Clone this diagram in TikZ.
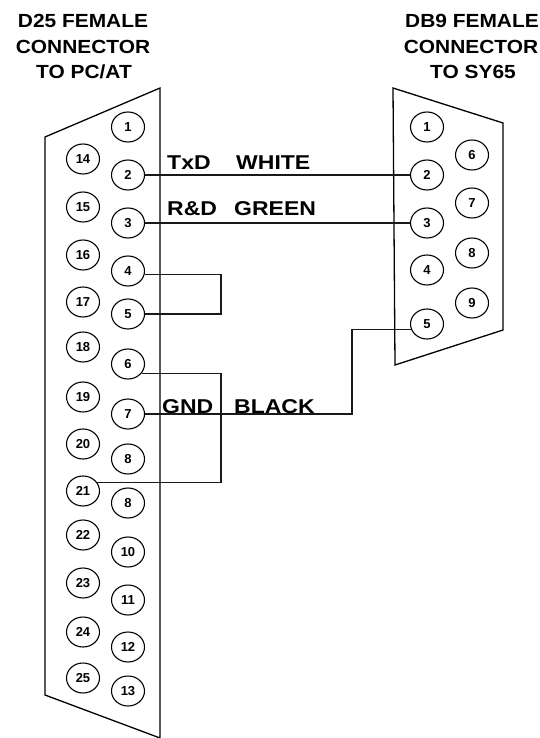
\documentclass[tikz,border=0pt]{standalone}
\usepackage{fontspec}
\setmainfont{Liberation Sans}
\usetikzlibrary{shapes.geometric}
\newcommand{\tstr}[1]{\scalebox{1.1}[1]{#1}}
\newcommand{\lstr}[1]{\scalebox{1.15}[1]{#1}}
\tikzset{
  pinc/.style={ellipse,draw,line width=1.1pt,minimum width=33pt,minimum height=30pt,inner sep=0pt,
    font=\bfseries\fontsize{13}{13}\selectfont},
  title/.style={anchor=base,inner sep=0pt,font=\bfseries\fontsize{19}{19}\selectfont},
  lab/.style={anchor=base west,inner sep=0pt,font=\bfseries\fontsize{20}{20}\selectfont},
  shell/.style={line width=1.3pt,line join=miter},
  wire/.style={line width=1.3pt,draw=black!90}
}
\begin{document}
\begin{tikzpicture}[x=1pt,y=-1pt]
\useasboundingbox (0,0) rectangle (540,738);
% titles
\node[title] (tl1) at (83,28) {\tstr{D25 FEMALE}};
\node[title] (tl2) at (83,54) {\tstr{CONNECTOR}};
\node[title] (tl3) at (84,79) {\tstr{TO PC/AT}};
\node[title] (tr1) at (472,28) {\tstr{DB9 FEMALE}};
\node[title] (tr2) at (471,54) {\tstr{CONNECTOR}};
\node[title] (tr3) at (473,79) {\tstr{TO SY65}};
% shells
\draw[shell] (160,88) -- (45,137) -- (45,695) -- (160,738) -- cycle;
\draw[shell] (393,88) -- (503,123) -- (503,330) -- (395,365) -- cycle;
% left connector pins, column 1-13
\foreach \n/\y/\t in {1/127/1,2/175/2,3/223/3,4/271/4,5/314/5,6/364/6,7/414/7,8/459/8,9/503/8,10/552/10,11/600/11,12/647/12,13/691/13}
  \node[pinc] (p\n) at (128,\y) {\t};
% column 14-25
\foreach \n/\y in {14/159,15/207,16/255,17/302,18/347,19/397,20/444,21/491,22/535,23/583,24/632,25/678}
  \node[pinc] (p\n) at (83,\y) {\n};
% right connector pins
\foreach \n/\y in {1/127,2/175,3/223,4/270,5/324}
  \node[pinc] (r\n) at (427,\y) {\n};
\foreach \n/\y in {6/155,7/203,8/253,9/303}
  \node[pinc] (r\n) at (472,\y) {\n};
% labels
\node[lab] (ltxd) at (167,169) {\lstr{TxD}};
\node[lab] (lwhite) at (236,169) {\lstr{WHITE}};
\node[lab] (lrd) at (167,215) {\lstr{R\&D}};
\node[lab] (lgreen) at (234,215) {\lstr{GREEN}};
\node[lab] (lgnd) at (162,413) {\lstr{GND}};
\node[lab] (lblack) at (234,413) {\lstr{BLACK}};
% junction coordinates
\coordinate (j45) at (221,0);
\coordinate (j621) at (221,0);
\coordinate (jg) at (352,0);
% wires
\draw[wire] (p2.east) -- (r2.west);
\draw[wire] (p3.east) -- (r3.west);
\draw[wire] (p4.-12) -- (p4.-12 -| j45) -- (p5.east -| j45) -- (p5.east);
\draw[wire] (p6.-35) -- (p6.-35 -| j621) -- (p21.30 -| j621) -- (p21.30);
\draw[wire] (p7.east) -- (p7.east -| jg) -- (jg |- r5.200) -- (r5.200);
\end{tikzpicture}
\end{document}
